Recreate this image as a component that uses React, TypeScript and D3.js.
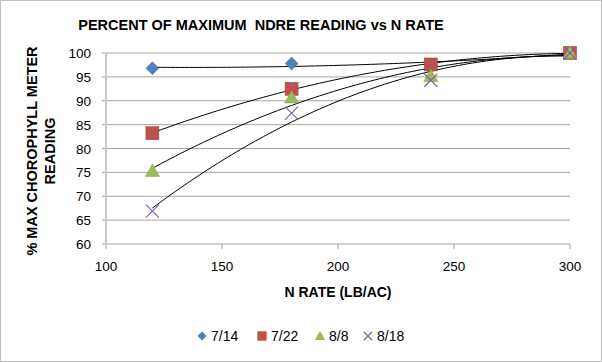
import React from 'react';
import * as d3 from 'd3';

// N rate (lb/ac)
const rates = [120, 180, 240, 300];
const seriesNames = ['7/14', '7/22', '8/8', '8/18'];
const v714 = [96.8, 97.8, 97.5, 100];
const v722 = [83.2, 92.5, 97.6, 100];
const v88 = [75.3, 90.7, 95.2, 100];
const v818 = [66.9, 87.4, 94.3, 100];
const xTicks = [100, 150, 200, 250, 300];
const yTicks = [60, 65, 70, 75, 80, 85, 90, 95, 100];

const colors = ['#4F81BD', '#C0504D', '#9BBB59', '#8064A2'];
const shapes = ['diamond', 'square', 'triangle', 'x'];

const W = 602;
const H = 362;
const margin = { left: 106, right: 32, top: 53, bottom: 118 };

// least squares quadratic fit (Excel-style polynomial trendline)
const polyFit = (xs: number[], ys: number[]) => {
  const n = xs.length;
  const s = (f: (x: number, y: number) => number) => d3.sum(xs.map((x, i) => f(x, ys[i])));
  const A = [
    [n, s(x => x), s(x => x * x)],
    [s(x => x), s(x => x * x), s(x => x ** 3)],
    [s(x => x * x), s(x => x ** 3), s(x => x ** 4)],
  ];
  const b = [s((x, y) => y), s((x, y) => x * y), s((x, y) => x * x * y)];
  // gaussian elimination
  const M = A.map((r, i) => [...r, b[i]]);
  for (let i = 0; i < 3; i++) {
    for (let k = i + 1; k < 3; k++) {
      const f = M[k][i] / M[i][i];
      for (let j = i; j < 4; j++) M[k][j] -= f * M[i][j];
    }
  }
  const c = [0, 0, 0];
  for (let i = 2; i >= 0; i--) {
    let sum = M[i][3];
    for (let j = i + 1; j < 3; j++) sum -= M[i][j] * c[j];
    c[i] = sum / M[i][i];
  }
  return (x: number) => c[0] + c[1] * x + c[2] * x * x;
};

const Marker = ({ shape, color, x, y, s = 1 }: any) => {
  if (shape === 'diamond') {
    const r = 6.5 * s;
    return <path d={`M${x},${y - r}L${x + r},${y}L${x},${y + r}L${x - r},${y}Z`} fill={color} stroke="#3a6aa5" strokeWidth={0.5} />;
  }
  if (shape === 'square') {
    const r = 6.5 * s;
    return <rect x={x - r} y={y - r} width={2 * r} height={2 * r} fill={color} stroke="#a03c39" strokeWidth={0.5} />;
  }
  if (shape === 'triangle') {
    const r = 7 * s;
    return <path d={`M${x},${y - r}L${x + r},${y + r * 0.8}L${x - r},${y + r * 0.8}Z`} fill={color} stroke="#7f9c45" strokeWidth={0.5} />;
  }
  const r = 6.5 * s;
  return (
    <g stroke={color} strokeWidth={1.2}>
      <line x1={x - r} y1={y - r} x2={x + r} y2={y + r} />
      <line x1={x - r} y1={y + r} x2={x + r} y2={y - r} />
    </g>
  );
};

const App = () => {
  const series = [v714, v722, v88, v818];
  const x = d3.scaleLinear().domain([100, 300]).range([margin.left, W - margin.right]);
  const y = d3.scaleLinear().domain([60, 100]).range([H - margin.bottom, margin.top]);
  const trendXs = d3.range(120, 300.1, 2);
  const line = d3.line<number[]>().x(d => x(d[0])).y(d => y(d[1])).curve(d3.curveMonotoneX);
  const font = '"Liberation Sans", Arial, sans-serif';
  const legendX = [202, 262, 320, 368];

  return (
    <svg width={W} height={H} style={{ display: 'block', fontFamily: font }}>
      <style>{'body{margin:0}'}</style>
      <rect x={0.5} y={0.5} width={W - 1} height={H - 1} fill="#fff" stroke="#7f7f7f" strokeDasharray="1,1" />
      <text x={261} y={30} textAnchor="middle" fontSize={14.5} fontWeight="bold" fill="#000">
        PERCENT OF MAXIMUM{'\u00a0 '}NDRE READING vs N RATE
      </text>

      {/* gridlines */}
      {yTicks.map(t => (
        <g key={t}>
          <line x1={margin.left - 4} x2={W - margin.right} y1={y(t)} y2={y(t)} stroke="#a6a6a6" strokeWidth={1} />
        </g>
      ))}
      {/* y axis */}
      <line x1={margin.left} x2={margin.left} y1={y(100)} y2={y(60)} stroke="#c8c8c8" strokeWidth={2} />
      {yTicks.map(t => (
        <text key={t} x={91} y={y(t) + 5} textAnchor="end" fontSize={13.5} fill="#000">{t}</text>
      ))}
      {/* x axis ticks */}
      {xTicks.map(t => (
        <g key={t}>
          <line x1={x(t)} x2={x(t)} y1={y(60)} y2={y(60) + 5} stroke="#a6a6a6" />
          <text x={x(t)} y={y(60) + 27} textAnchor="middle" fontSize={13.5} fill="#000">{t}</text>
        </g>
      ))}
      <text x={338} y={297} textAnchor="middle" fontSize={14} fontWeight="bold" fill="#000">N RATE (LB/AC)</text>
      <text transform="rotate(-90)" textAnchor="middle" fontSize={14.5} fontWeight="bold" fill="#000">
        <tspan x={-151} y={37}>% MAX CHOROPHYLL METER</tspan>
        <tspan x={-151} y={55}>READING</tspan>
      </text>

      {/* trend lines */}
      {series.map((vals, i) => {
        const f = polyFit(rates, vals);
        return (
          <path key={i} d={line(trendXs.map(t => [t, f(t)])) || ''} fill="none" stroke="#000" strokeWidth={1} />
        );
      })}

      {/* markers */}
      {series.map((vals, i) =>
        vals.map((v, j) => (
          <Marker key={`${i}-${j}`} shape={shapes[i]} color={colors[i]} x={x(rates[j])} y={y(v)} />
        ))
      )}

      {/* legend */}
      {seriesNames.map((name, i) => (
        <g key={name}>
          <Marker shape={shapes[i]} color={colors[i]} x={legendX[i]} y={336} s={0.65} />
          <text x={legendX[i] + 9} y={341} fontSize={14} fill="#000">{name}</text>
        </g>
      ))}
    </svg>
  );
};

export default App;
